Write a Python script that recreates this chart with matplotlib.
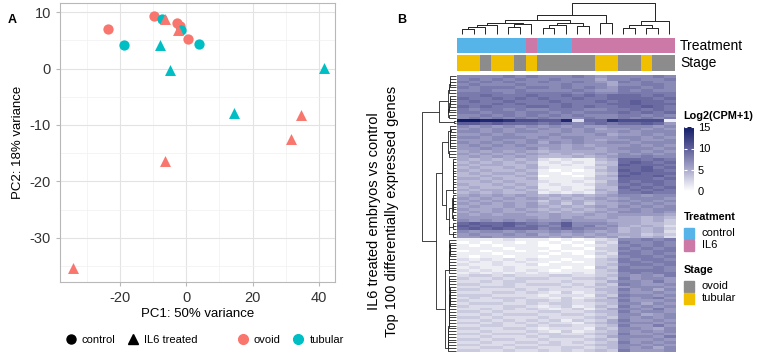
import matplotlib
matplotlib.use("Agg")
import matplotlib.pyplot as plt
import numpy as np
from matplotlib.colors import LinearSegmentedColormap
from matplotlib.lines import Line2D
from matplotlib.patches import Rectangle

plt.rcParams['font.family'] = ['Liberation Sans', 'DejaVu Sans']
plt.rcParams['axes.unicode_minus'] = False

# ---- panel A data (PCA) ----
pc1 = [-23.6, -9.8, -2.9, -1.9, 0.4, -18.7, -7.3, -1.6, 3.8,
       -7.8, -5.0, 14.3, 41.4, -6.3, -2.6, 34.6, 31.7, -6.4, -34.2]
pc2 = [7.0, 9.3, 8.1, 7.6, 5.3, 4.1, 8.7, 6.8, 4.3,
       4.2, -0.2, -7.9, 0.1, 8.7, 6.8, -8.2, -12.4, -16.3, -35.3]
treat = ['control'] * 9 + ['IL6 treated'] * 10
stage = ['ovoid'] * 5 + ['tubular'] * 4 + ['tubular'] * 4 + ['ovoid'] * 6

# ---- panel B data (heatmap, Log2(CPM+1), 100 genes x 19 samples) ----
col_treat = ['control'] * 6 + ['IL6'] + ['control'] * 3 + ['IL6'] * 9
col_stage = ['tubular', 'tubular', 'ovoid', 'tubular', 'tubular', 'ovoid', 'tubular',
             'ovoid', 'ovoid', 'ovoid', 'ovoid', 'ovoid', 'tubular', 'tubular',
             'ovoid', 'ovoid', 'tubular', 'ovoid', 'ovoid']

expr_rows = [
    "7777878 77787 67 77787", "7878787 78777 57 78778", "8787877 87787 65 87877",
    "7877787 77877 75 77887", "8788878 87878 76 88787", "7787787 77787 66 87877",
    "8888788 88878 77 88888", "8898889 88989 89 99898", "9889898 98898 89 99989",
    "8988988 89888 98 9a998", "8889898 88988 89 9a999", "9898889 98989 88 99a98",
    "8788787 78887 78 89898", "8878878 87878 88 98989", "7787878 78787 77 88787",
    "7878787 87778 77 87878",
    "ffeedbb aae29 9d bbbb1", "aa9a999 89878 98 99a96",
    "7676767 67676 67 77767", "6767676 76767 56 67676", "7767677 66767 66 76777",
    "6676766 67666 75 66767", "7767776 76776 66 77676", "6667667 66676 56 67667",
    "7676767 57676 67 76777", "6767676 66565 66 67676", "6676667 56566 56 77767",
    "5656565 45555 56 67676", "6565656 54545 65 76767", "5656565 44454 56 77877",
    "5454545 21211 45 99898", "4545454 12121 34 9a989", "5455445 11211 44 a9998",
    "4544545 21112 35 99a89", "5454454 10101 45 a9a98", "4545545 11011 34 9a999",
    "4454454 01101 45 a99a8", "5545445 11112 44 99989", "4454544 21121 35 98998",
    "5445454 12112 45 89898", "4544545 11211 44 98989", "5455454 21212 54 89898",
    "4545445 12121 45 88988",
    "5656565 45454 56 77677", "6565656 54545 65 67776", "5656555 35454 56 76767",
    "6565656 45353 55 67676", "5655656 54545 65 76767", "6556565 45454 56 67677",
    "5656556 54545 65 77676", "6565665 56556 56 66665",
    "6666666 56565 56 55454", "7676767 66766 65 55453", "9a99a98 78a77 76 55443",
    "a9a9a89 87a78 67 54542", "9a9a999 78987 76 45453", "7677676 67676 56 45452",
    "6766767 56565 65 55343", "6676666 65656 56 45452",
    "1111211 10101 23 77878", "0101101 01010 32 87787", "1010111 00101 23 78787",
    "1111011 10110 33 87878", "0101101 01001 23 78788", "1110111 10101 32 88787",
    "1011011 01110 23 78878", "2121212 11011 34 87887", "1212121 10101 33 88788",
    "2112112 01111 34 78878", "1211211 11010 43 87787", "2121212 10111 34 88887",
    "1212121 21121 33 78788",
    "2332322 23322 34 76768", "3223233 32233 43 86776", "2232332 22322 35 77686",
    "3322323 33232 43 87667", "2233322 22323 34 67776", "3322232 32222 44 86757",
    "2223323 21312 34 76676", "3332222 12221 43 87767", "2323332 21312 35 76786",
    "3222323 32323 44 86667", "2333223 23322 34 77576", "3222332 12312 43 86767",
    "2232323 21231 35 77686", "3323222 33223 44 86776", "2232333 22332 34 77567",
    "3323222 32223 43 76767", "2232323 23132 35 86676", "3323232 32213 45 77767",
    "2233223 23322 34 86686", "3322332 12221 43 77657", "2232223 21312 34 76767",
    "3323332 33223 44 86676", "2232223 23332 35 77768", "3323322 32223 43 76676",
    "2232233 23232 34 86767", "3322322 33223 44 77676", "2233233 22332 34 76757",
    "3322322 32323 43 86667",
]
expr = np.array([[int(c, 16) for c in r.replace(' ', '')] for r in expr_rows], dtype=float)

# column dendrogram (left, right, height)
col_tree = (
    ((((((0, 1, 12), 2, 20), 3, 25), ((4, 5, 18), 6, 28), 32),
      (((7, 8, 15), 9, 25), (10, 11, 22), 32), 40),
     (12, 13, 32), 55),
    ((((14, 15, 15), (16, 17, 15), 25), 18, 38)),
    92)

# row groups (first, last row) with the height of their internal tree
row_groups = [(0, 15, 8), (16, 17, 2), (18, 29, 8), (30, 58, 10), (59, 71, 7), (72, 99, 8)]

treat_colors = {'control': '#56B4E9', 'IL6': '#CC79A7'}
stage_colors = {'ovoid': '#8C8C8C', 'tubular': '#F0C000'}
pca_colors = {'ovoid': '#F8766D', 'tubular': '#00BFC4'}
pca_markers = {'control': 'o', 'IL6 treated': '^'}

W, H = 757, 355
fig = plt.figure(figsize=(W / 100, H / 100), dpi=100)


def box(x0, y0, x1, y1):
    return [x0 / W, 1 - y1 / H, (x1 - x0) / W, (y1 - y0) / H]


# ---------------- panel A ----------------
ax = fig.add_axes(box(60, 3, 335, 282))
for t in ['control', 'IL6 treated']:
    for s in ['ovoid', 'tubular']:
        xs = [pc1[i] for i in range(len(pc1)) if treat[i] == t and stage[i] == s]
        ys = [pc2[i] for i in range(len(pc2)) if treat[i] == t and stage[i] == s]
        ax.scatter(xs, ys, marker=pca_markers[t], color=pca_colors[s],
                   s=55 if t == 'control' else 62, linewidths=0, zorder=3)
ax.set_xlim(-38, 44.8)
ax.set_ylim(-37.8, 11.6)
ax.set_xticks([-20, 0, 20, 40])
ax.set_yticks([-30, -20, -10, 0, 10])
ax.set_xticks([-30, -10, 10, 30], minor=True)
ax.set_yticks([-35, -25, -15, -5, 5], minor=True)
ax.grid(which='major', color='#e3e3e3', lw=0.8)
ax.grid(which='minor', color='#f0f0f0', lw=0.5)
ax.set_axisbelow(True)
for sp in ax.spines.values():
    sp.set_color('#b8b8b8')
    sp.set_linewidth(0.8)
ax.tick_params(which='major', length=3, color='#b8b8b8', labelsize=10.5, labelcolor='#333333')
ax.tick_params(which='minor', length=0)
ax.set_xlabel('PC1: 50% variance', fontsize=9.5, labelpad=2)
ax.set_ylabel('PC2: 18% variance', fontsize=9.5, labelpad=4)

h1 = [Line2D([], [], marker=pca_markers[t], color='black', ls='none', markersize=6.5) for t in ['control', 'IL6 treated']]
h2 = [Line2D([], [], marker='o', color=pca_colors[s], ls='none', markersize=7) for s in ['ovoid', 'tubular']]
fig.legend(h1, ['control', 'IL6 treated'], loc='center', bbox_to_anchor=(131 / W, 1 - 340 / H),
           ncol=2, frameon=False, fontsize=8, handletextpad=0.4, columnspacing=1.0, handlelength=1.2)
fig.legend(h2, ['ovoid', 'tubular'], loc='center', bbox_to_anchor=(290 / W, 1 - 340 / H),
           ncol=2, frameon=False, fontsize=8, handletextpad=0.4, columnspacing=1.0, handlelength=1.2)
fig.text(8 / W, 1 - 20 / H, 'A', fontsize=9, fontweight='bold', va='center')

# ---------------- panel B ----------------
cmap = LinearSegmentedColormap.from_list('hm', ['#ffffff', '#a9a9cc', '#5c5c98', '#101c66'])
ncol, nrow = expr.shape[1], expr.shape[0]

axh = fig.add_axes(box(456.7, 75, 675, 352))
axh.imshow(expr, cmap=cmap, vmin=0, vmax=15, aspect='auto', interpolation='nearest')
axh.set_axis_off()

for (y0, y1, vals, cmapd) in [(37.7, 53.3, col_treat, treat_colors), (55, 70.7, col_stage, stage_colors)]:
    axa = fig.add_axes(box(456.7, y0, 675, y1))
    for i, v in enumerate(vals):
        axa.add_patch(Rectangle((i - 0.5, 0), 1, 1, color=cmapd[v], lw=0))
    axa.set_xlim(-0.5, ncol - 0.5)
    axa.set_ylim(0, 1)
    axa.set_axis_off()
fig.text(680 / W, 1 - 46 / H, 'Treatment', fontsize=10, va='center')
fig.text(680 / W, 1 - 63 / H, 'Stage', fontsize=10, va='center')


def layout(node, segs):
    if isinstance(node, int):
        return float(node), 0.0
    l, r, h = node
    pl, hl = layout(l, segs)
    pr, hr = layout(r, segs)
    segs.append(([pl, pl, pr, pr], [hl, h, h, hr]))
    return (pl + pr) / 2, h


def chain_tree(first, last, top_h):
    # order-preserving agglomeration of neighbouring rows
    nodes = list(range(first, last + 1))
    means = [expr[i].copy() for i in nodes]
    sizes = [1] * len(nodes)
    hts = [0.0] * len(nodes)
    while len(nodes) > 1:
        d = [np.linalg.norm(means[k] - means[k + 1]) for k in range(len(nodes) - 1)]
        k = int(np.argmin(d))
        h = max(d[k], hts[k], hts[k + 1]) + 0.05
        n = sizes[k] + sizes[k + 1]
        m = (means[k] * sizes[k] + means[k + 1] * sizes[k + 1]) / n
        nodes[k:k + 2] = [(nodes[k], nodes[k + 1], h)]
        means[k:k + 2] = [m]
        sizes[k:k + 2] = [n]
        hts[k:k + 2] = [h]
    root = nodes[0]
    scale = top_h / hts[0]

    def sc(nd):
        if isinstance(nd, int):
            return nd
        return (sc(nd[0]), sc(nd[1]), nd[2] * scale)
    return sc(root)


g = [chain_tree(a, b, h) for a, b, h in row_groups]
row_tree = ((g[0], g[1], 17), ((g[2], g[3], 14), (g[4], g[5], 11), 20), 34)

axc = fig.add_axes(box(456.7, 2.7, 675, 33.5))
segs = []
layout(col_tree, segs)
for xs, ys in segs:
    axc.plot(xs, ys, color='#222222', lw=0.7, solid_capstyle='butt', clip_on=False)
axc.set_xlim(-0.5, ncol - 0.5)
axc.set_ylim(0, col_tree[2])
axc.set_axis_off()

axr = fig.add_axes(box(421.7, 75, 456, 352))
segs = []
layout(row_tree, segs)
for ys, xs in segs:
    axr.plot(xs, ys, color='#222222', lw=0.6, solid_capstyle='butt', clip_on=False)
axr.set_ylim(nrow - 0.5, -0.5)
axr.set_xlim(row_tree[2], 0)
axr.set_axis_off()

fig.text(383 / W, 1 - 211 / H, 'IL6 treated embryos vs control\nTop 100 differentially expressed genes',
         rotation=90, ha='center', va='center', fontsize=10.5, linespacing=1.35)
fig.text(397 / W, 1 - 20 / H, 'B', fontsize=9, fontweight='bold', va='center')

# colour legend
fig.text(683 / W, 1 - 116 / H, 'Log2(CPM+1)', fontsize=7.8, fontweight='bold', va='center')
axcb = fig.add_axes(box(683.5, 127, 693.5, 191.5))
axcb.imshow(np.linspace(0, 15, 256)[:, None], cmap=cmap, vmin=0, vmax=15, origin='lower',
            extent=[0, 1, 0, 15], aspect='auto')
axcb.set_xticks([])
axcb.yaxis.tick_right()
axcb.set_yticks([0, 5, 10, 15])
axcb.tick_params(axis='y', direction='in', length=2.5, color='white', labelsize=8, pad=3,
                 left=True, right=True)
for sp in axcb.spines.values():
    sp.set_visible(False)

for title, ty, items, cd in [('Treatment', 217, ['control', 'IL6'], treat_colors),
                             ('Stage', 270, ['ovoid', 'tubular'], stage_colors)]:
    fig.text(684 / W, 1 - ty / H, title, fontsize=7.8, fontweight='bold', va='center')
    for j, it in enumerate(items):
        yc = ty + 16 + j * 12
        fig.patches.append(Rectangle((683.5 / W, 1 - (yc + 5.5) / H), 10 / W, 11 / H,
                                     color=cd[it], transform=fig.transFigure, figure=fig))
        fig.text(702 / W, 1 - yc / H, it, fontsize=8, va='center')

fig.savefig('out.png', dpi=100)
